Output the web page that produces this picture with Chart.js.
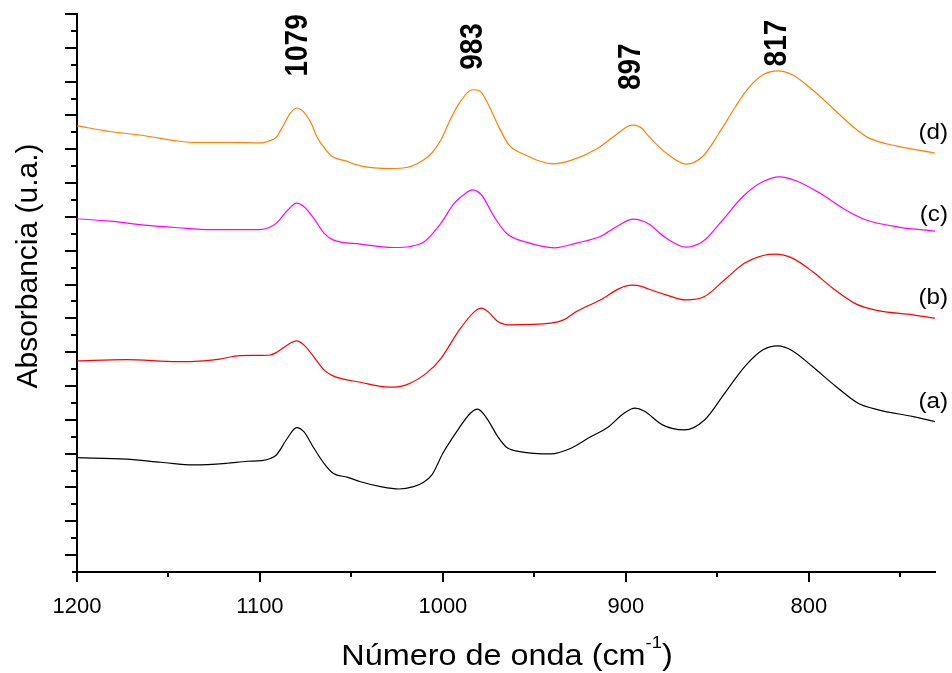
<!DOCTYPE html>
<html>
<head>
<meta charset="utf-8">
<script src="https://cdn.jsdelivr.net/npm/chart.js@4.4.1/dist/chart.umd.min.js"></script>
<style>
  html, body { margin: 0; padding: 0; background: #fff; }
  #wrap { width: 952px; height: 673px; position: relative; }
</style>
</head>
<body>
<div id="wrap"><canvas id="myChart"></canvas></div>
<script>
// spectra: wavenumber (cm-1) and offset absorbance (u.a.)
var waveA = [1200,1173,1154,1136,1118,1107,1099,1094,1091,1085,1080,1076,1071,1065,1060,1052,1045,1034,1024,1016,1011,1006,1000,993,985,981,976,970,965,958,941,930,919,910,901,895,890,880,868,857,846,835,825,817,809,798,785,773,762,743,731];
var absA = [6.76,6.67,6.49,6.33,6.43,6.55,6.59,6.73,6.92,7.91,8.54,8.30,7.41,6.43,5.84,5.60,5.34,5.05,4.91,5.05,5.28,5.74,7.02,8.21,9.39,9.63,9.09,8.01,7.36,7.12,6.98,7.32,8.01,8.54,9.39,9.69,9.52,8.70,8.40,8.99,10.57,12.15,13.14,13.37,13.09,12.15,10.96,9.98,9.59,9.19,8.89];

var waveB = [1200,1173,1145,1131,1122,1111,1095,1091,1085,1080,1076,1070,1065,1060,1045,1029,1020,1009,1001,991,983,979,975,970,964,941,934,927,914,903,897,891,888,878,867,857,846,835,825,818,809,798,787,774,762,743,731];
var absB = [12.49,12.56,12.44,12.49,12.59,12.80,12.82,12.98,13.43,13.67,13.43,12.64,11.95,11.60,11.22,10.93,11.07,11.76,12.64,14.32,15.37,15.60,15.37,14.81,14.62,14.72,14.91,15.40,16.09,16.79,16.96,16.88,16.75,16.39,16.09,16.29,17.28,18.27,18.72,18.80,18.56,17.77,16.79,15.84,15.46,15.21,15.01];

var waveC = [1200,1182,1163,1145,1127,1100,1095,1091,1085,1080,1076,1070,1065,1060,1045,1027,1018,1010,1001,994,987,984,979,972,965,954,939,927,914,905,896,890,887,878,867,858,847,836,825,816,807,794,780,769,751,731];
var absC = [20.89,20.75,20.51,20.36,20.25,20.25,20.37,20.63,21.38,21.82,21.62,20.83,20.04,19.64,19.39,19.19,19.25,19.54,20.63,21.78,22.44,22.60,22.31,21.02,20.0,19.49,19.17,19.45,19.84,20.43,20.87,20.73,20.55,19.75,19.21,19.54,20.83,22.21,23.09,23.37,23.14,22.41,21.42,20.83,20.40,20.16];

var waveD = [1200,1182,1163,1145,1134,1118,1099,1095,1091,1088,1084,1080,1076,1072,1069,1064,1060,1054,1045,1029,1020,1011,1006,1001,996,991,984,980,976,970,964,954,946,940,930,916,907,899,896,891,889,886,878,867,858,849,840,833,825,817,809,798,787,776,767,751,731];
var absD = [26.39,26.05,25.80,25.49,25.40,25.40,25.38,25.49,25.72,26.25,27.04,27.44,27.20,26.55,25.76,24.97,24.54,24.34,24.02,23.86,23.92,24.34,24.78,25.56,26.75,27.73,28.52,28.46,27.83,26.45,25.27,24.62,24.26,24.14,24.34,25.01,25.72,26.35,26.43,26.23,25.95,25.6,24.78,24.12,24.57,25.96,27.53,28.62,29.41,29.64,29.41,28.52,27.44,26.35,25.66,25.17,24.78];

var seriesNames = ['(a)', '(b)', '(c)', '(d)'];
var seriesColors = ['#000000', '#FF0000', '#FF00FF', '#FF8000'];
var peaks = [1079, 983, 897, 817];
var xTickValues = [1200, 1150, 1100, 1050, 1000, 950, 900, 850, 800, 750];

// where the annotations sit (in axis units)
var peakLabelY = [29.3, 29.7, 28.5, 29.9];
var nameLabelY = [10.06, 16.21, 21.12, 25.98];

var FONT = "'Liberation Sans', Arial, sans-serif";

function pts(w, a) {
  return w.map(function (v, i) { return { x: v, y: a[i] }; });
}

function stretchText(c, txt, x, y, sx) {
  c.save();
  c.translate(x, y);
  c.scale(sx, 1);
  c.fillText(txt, 0, 0);
  c.restore();
}

var decorations = {
  id: 'decorations',
  afterDraw: function (chart) {
    var c = chart.ctx, xs = chart.scales.x, ys = chart.scales.y, area = chart.chartArea;
    c.save();
    c.strokeStyle = '#000';
    c.lineWidth = 2;
    // small overhang of the x axis past the y axis
    c.beginPath(); c.moveTo(area.left - 5, area.bottom); c.lineTo(area.left, area.bottom); c.stroke();
    // tick marks, pointing out of the plot
    xs.ticks.forEach(function (t) {
      var px = Math.round(xs.getPixelForValue(t.value));
      var len = t.value % 100 === 0 ? 10 : 5;
      c.beginPath(); c.moveTo(px, area.bottom); c.lineTo(px, area.bottom + len); c.stroke();
    });
    ys.ticks.forEach(function (t) {
      if (t.value === 0) return;
      var py = Math.round(ys.getPixelForValue(t.value));
      var len = t.value % 2 === 1 ? 12 : 6;
      c.beginPath(); c.moveTo(area.left, py); c.lineTo(area.left - len, py); c.stroke();
    });

    c.fillStyle = '#000';

    // y title
    c.save();
    c.translate(37, 266);
    c.rotate(-Math.PI / 2);
    c.font = '30px ' + FONT;
    c.textAlign = 'center';
    c.textBaseline = 'alphabetic';
    c.fillText('Absorbancia (u.a.)', 0, 0);
    c.restore();

    // x title with superscript
    var sx = 1.08;
    c.textBaseline = 'alphabetic';
    c.textAlign = 'left';
    c.font = '30px ' + FONT;
    var p1 = 'Número de onda (cm', p3 = ')';
    var w1 = c.measureText(p1).width, w3 = c.measureText(p3).width;
    c.font = '17px ' + FONT;
    var w2 = c.measureText('-1').width;
    var total = (w1 + w2 + w3) * sx;
    var x0 = (area.left + area.right) / 2 + 1 - total / 2;
    c.font = '30px ' + FONT;
    stretchText(c, p1, x0, 665, sx);
    c.font = '17px ' + FONT;
    stretchText(c, '-1', x0 + w1 * sx, 648, sx);
    c.font = '30px ' + FONT;
    stretchText(c, p3, x0 + (w1 + w2) * sx, 665, sx);

    // peak positions
    c.font = 'bold 28px ' + FONT;
    c.textAlign = 'left';
    c.textBaseline = 'middle';
    peaks.forEach(function (p, i) {
      c.save();
      c.translate(xs.getPixelForValue(p), ys.getPixelForValue(peakLabelY[i]));
      c.rotate(-Math.PI / 2);
      c.scale(1, 1.1);
      c.fillText(String(p), 0, 0);
      c.restore();
    });

    // curve names
    c.font = '22px ' + FONT;
    c.textAlign = 'right';
    c.textBaseline = 'middle';
    seriesNames.forEach(function (n, i) {
      stretchText(c, n, 948, ys.getPixelForValue(nameLabelY[i]), 1.1);
    });
    c.restore();
  }
};

var ctx = document.getElementById('myChart').getContext('2d');

new Chart(ctx, {
  type: 'line',
  data: {
    datasets: [
      { label: seriesNames[0], data: pts(waveA, absA), borderColor: seriesColors[0] },
      { label: seriesNames[1], data: pts(waveB, absB), borderColor: seriesColors[1] },
      { label: seriesNames[2], data: pts(waveC, absC), borderColor: seriesColors[2] },
      { label: seriesNames[3], data: pts(waveD, absD), borderColor: seriesColors[3] }
    ]
  },
  options: {
    responsive: true,
    maintainAspectRatio: false,
    animation: false,
    layout: { padding: { top: 14, right: 17, left: 0, bottom: 0 } },
    elements: {
      line: { borderWidth: 1.2, fill: false, cubicInterpolationMode: 'monotone' },
      point: { radius: 0 }
    },
    plugins: {
      legend: { display: false },
      tooltip: { enabled: false }
    },
    scales: {
      x: {
        type: 'linear',
        reverse: true,
        min: 731,
        max: 1200,
        afterBuildTicks: function (scale) {
          scale.ticks = xTickValues.map(function (v) { return { value: v }; });
        },
        afterFit: function (scale) { scale.height = 101; },
        grid: { display: false },
        border: { display: true, color: '#000', width: 2 },
        ticks: {
          autoSkip: false,
          maxRotation: 0,
          padding: 14,
          color: '#000',
          font: { family: FONT, size: 22 },
          callback: function (v) { return v % 100 === 0 ? String(v) : ''; }
        }
      },
      y: {
        type: 'linear',
        min: 0,
        max: 33,
        afterBuildTicks: function (scale) {
          var t = [];
          for (var v = 0; v <= 33; v++) t.push({ value: v });
          scale.ticks = t;
        },
        afterFit: function (scale) { scale.width = 77; },
        grid: { display: false },
        border: { display: true, color: '#000', width: 2 },
        ticks: { display: false }
      }
    }
  },
  plugins: [decorations]
});
</script>
</body>
</html>
